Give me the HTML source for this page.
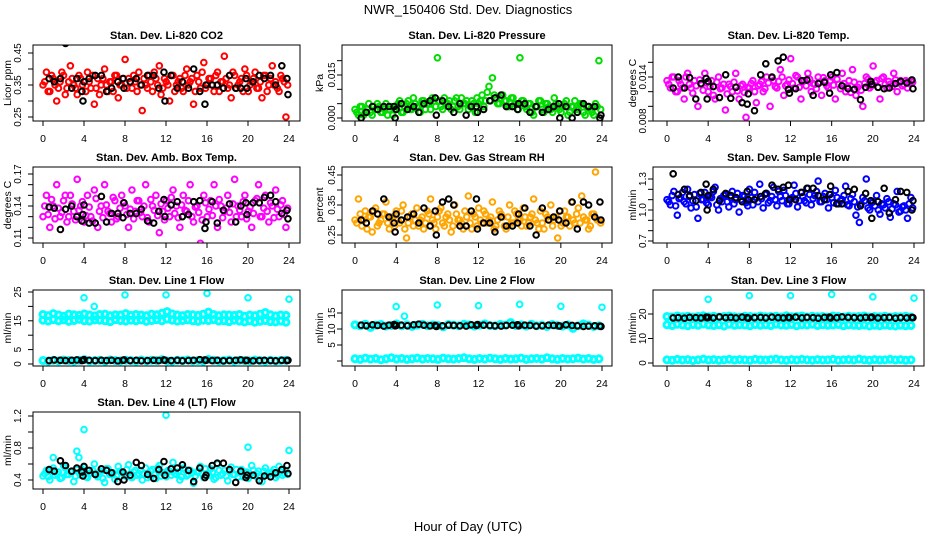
<!DOCTYPE html>
<html><head><meta charset="utf-8"><style>
html,body{margin:0;padding:0;background:#fff;}
svg{display:block;font-family:"Liberation Sans",Arial,sans-serif;}
</style></head><body>
<svg id="chart" width="936" height="540" viewBox="0 0 936 540">
<rect x="0" y="0" width="936" height="540" fill="#fff"/>
<text x="468" y="14" font-size="13" text-anchor="middle">NWR_150406  Std. Dev. Diagnostics</text>
<text x="468" y="531" font-size="13" text-anchor="middle">Hour of Day (UTC)</text>
</svg>
<script>
const hoursB = [0.6,1.1,1.7,2.2,2.8,3.3,3.8,3.9,4.0,4.5,5.1,5.7,6.2,6.7,7.3,7.8,7.9,8.5,9.1,9.6,10.2,10.8,11.3,11.8,11.9,12.5,13.1,13.6,14.2,14.7,15.3,15.8,15.9,16.5,17.0,17.6,18.2,18.8,19.3,19.8,19.9,20.5,21.1,21.6,22.2,22.7,23.3,23.8,23.9];
const xTicks = [0,4,8,12,16,20,24];

const co2 = [0.35,0.39,0.33,0.37,0.30,0.36,0.38,0.34,0.41,0.35,0.32,0.37,0.36,0.39,0.34,0.29,0.37,0.35,0.40,0.33,0.36,0.38,0.31,0.35,0.43,0.37,0.34,0.36,0.39,0.27,0.35,0.38,0.33,0.37,0.41,0.34,0.36,0.30,0.38,0.35,0.37,0.33,0.40,0.36,0.29,0.38,0.34,0.42,0.35,0.37,0.33,0.39,0.36,0.44,0.34,0.31,0.38,0.35,0.37,0.40,0.33,0.36,0.39,0.34,0.31,0.38,0.35,0.41,0.36,0.33,0.37,0.25];
const co2b = [0.36,0.33,0.38,0.35,0.34,0.39,0.32,0.36,0.37,0.34,0.38,0.35,0.33,0.36,0.38,0.34,0.32,0.37,0.35,0.36,0.33,0.38,0.35,0.37,0.34,0.36,0.38,0.33,0.35,0.37,0.34,0.36,0.39,0.35,0.32,0.37,0.35,0.38,0.33,0.36,0.34,0.38,0.35,0.37,0.33,0.36,0.39,0.34,0.37,0.35,0.38,0.33,0.36,0.37,0.35,0.39,0.34,0.36,0.33,0.38,0.35,0.37,0.34,0.36,0.38,0.33,0.37,0.35,0.34,0.38,0.36,0.35];
const co2B = [0.37,0.36,0.37,0.48,0.34,0.37,0.33,0.30,0.36,0.37,0.38,0.38,0.33,0.34,0.36,0.37,0.34,0.36,0.37,0.35,0.38,0.38,0.34,0.39,0.30,0.38,0.34,0.36,0.34,0.40,0.33,0.29,0.35,0.35,0.35,0.34,0.38,0.34,0.34,0.37,0.34,0.36,0.38,0.37,0.38,0.35,0.41,0.37,0.32];
const press = [0.003,0.001,0.004,0.002,0.005,0.001,0.003,0.004,0.002,0.005,0.003,0.001,0.004,0.006,0.002,0.005,0.003,0.007,0.004,0.002,0.006,0.005,0.003,0.006,0.021,0.004,0.007,0.005,0.003,0.006,0.004,0.007,0.005,0.003,0.006,0.002,0.005,0.008,0.006,0.011,0.014,0.007,0.005,0.008,0.006,0.004,0.007,0.005,0.021,0.006,0.003,0.005,0.001,0.004,0.006,0.002,0.005,0.003,0.007,0.004,0.002,0.005,0.001,0.004,0.006,0.003,0.005,0.001,0.004,0.002,0.005,0.020];
const pressb = [0.002,0.004,0.001,0.003,0.002,0.004,0.005,0.002,0.003,0.001,0.004,0.003,0.005,0.002,0.004,0.006,0.003,0.005,0.004,0.006,0.003,0.005,0.007,0.004,0.006,0.003,0.005,0.006,0.004,0.007,0.003,0.005,0.006,0.004,0.005,0.007,0.006,0.004,0.009,0.006,0.008,0.005,0.007,0.006,0.004,0.007,0.005,0.003,0.006,0.004,0.005,0.002,0.004,0.006,0.003,0.005,0.004,0.002,0.005,0.003,0.004,0.006,0.002,0.004,0.003,0.005,0.002,0.004,0.003,0.001,0.004,0.003];
const pressB = [0,0.002,0.004,0.003,0.004,0.004,0.004,0,0.003,0.005,0.003,0.004,0.002,0.005,0.006,0.007,0.001,0.006,0.004,0.002,0.005,0.001,0.004,0.004,0.002,0.003,0.006,0.007,0.008,0.004,0.004,0.003,0.005,0.005,0.002,0.004,0.002,0.003,0.004,0.005,0,0.004,0,0.002,0.005,0.004,0.004,0,0.001];
const temp = [0.0135,0.0125,0.014,0.012,0.0130,0.011,0.0145,0.0125,0.0135,0.010,0.013,0.0145,0.012,0.0135,0.011,0.0140,0.0125,0.0095,0.013,0.0120,0.0145,0.0110,0.0130,0.0085,0.0125,0.0135,0.0105,0.013,0.0120,0.0140,0.0100,0.0135,0.0125,0.0150,0.0115,0.0130,0.0165,0.0125,0.0140,0.0110,0.0135,0.0145,0.0120,0.0130,0.0140,0.0115,0.0135,0.0125,0.0140,0.0110,0.0130,0.0145,0.0120,0.0135,0.0150,0.0115,0.0130,0.0100,0.0140,0.0125,0.0155,0.0135,0.0110,0.0140,0.0125,0.0130,0.0145,0.0120,0.0135,0.0130,0.0125,0.0135];
const tempb = [0.0130,0.0140,0.0120,0.0135,0.0125,0.0140,0.0130,0.0118,0.0128,0.0136,0.0122,0.0132,0.0127,0.0115,0.0133,0.0124,0.0130,0.0117,0.0127,0.0133,0.0121,0.0128,0.0119,0.0126,0.0131,0.0120,0.0128,0.0134,0.0124,0.0132,0.0139,0.0127,0.0134,0.0140,0.0128,0.0136,0.0131,0.0142,0.0126,0.0134,0.0128,0.0137,0.0131,0.0124,0.0133,0.0139,0.0128,0.0135,0.0129,0.0137,0.0124,0.0131,0.0127,0.0119,0.0133,0.0126,0.0122,0.0131,0.0137,0.0128,0.0133,0.0126,0.0138,0.0130,0.0134,0.0127,0.0136,0.0132,0.0128,0.0135,0.0131,0.0133];
const tempB = [0.0125,0.0140,0.0125,0.0139,0.0110,0.0131,0.0138,0.0110,0.0134,0.0127,0.0112,0.0143,0.0111,0.0126,0.0105,0.0103,0.0117,0.0094,0.0143,0.0158,0.0140,0.0162,0.0167,0.0123,0.0118,0.0124,0.0135,0.0136,0.0115,0.0131,0.0133,0.0118,0.0143,0.0146,0.0128,0.0124,0.0123,0.0109,0.0126,0.0134,0.0130,0.0126,0.0124,0.0125,0.0131,0.0134,0.0132,0.0136,0.0124];
const amb = [0.13,0.15,0.12,0.14,0.16,0.13,0.145,0.125,0.15,0.135,0.165,0.14,0.125,0.15,0.13,0.155,0.12,0.14,0.16,0.135,0.125,0.145,0.13,0.15,0.14,0.12,0.155,0.135,0.145,0.13,0.16,0.125,0.14,0.15,0.115,0.135,0.145,0.13,0.155,0.14,0.12,0.15,0.135,0.16,0.125,0.14,0.105,0.15,0.13,0.145,0.16,0.12,0.14,0.135,0.15,0.125,0.165,0.14,0.13,0.15,0.135,0.12,0.145,0.16,0.13,0.15,0.125,0.14,0.155,0.13,0.145,0.12];
const ambb = [0.140,0.132,0.146,0.128,0.138,0.134,0.150,0.130,0.142,0.127,0.136,0.144,0.131,0.139,0.126,0.147,0.135,0.129,0.141,0.133,0.148,0.128,0.138,0.143,0.132,0.137,0.128,0.145,0.134,0.140,0.129,0.146,0.136,0.131,0.142,0.127,0.138,0.148,0.133,0.129,0.141,0.136,0.145,0.130,0.139,0.134,0.127,0.143,0.137,0.131,0.140,0.146,0.129,0.138,0.134,0.142,0.130,0.136,0.144,0.128,0.139,0.133,0.147,0.130,0.138,0.135,0.143,0.129,0.137,0.141,0.132,0.138];
const ambB = [0.139,0.138,0.118,0.137,0.140,0.130,0.126,0.132,0.141,0.124,0.124,0.149,0.125,0.133,0.133,0.129,0.143,0.133,0.133,0.137,0.126,0.124,0.135,0.146,0.130,0.141,0.144,0.130,0.132,0.144,0.145,0.119,0.125,0.144,0.124,0.136,0.142,0.125,0.140,0.143,0.132,0.143,0.143,0.148,0.150,0.144,0.133,0.136,0.128];
const rh = [0.30,0.37,0.28,0.33,0.31,0.26,0.34,0.29,0.32,0.36,0.27,0.31,0.33,0.29,0.35,0.24,0.31,0.28,0.34,0.30,0.27,0.33,0.37,0.29,0.31,0.34,0.28,0.32,0.26,0.35,0.30,0.29,0.33,0.38,0.27,0.31,0.34,0.29,0.32,0.30,0.36,0.28,0.33,0.31,0.27,0.35,0.29,0.32,0.30,0.34,0.28,0.31,0.37,0.29,0.33,0.27,0.31,0.35,0.30,0.24,0.28,0.33,0.31,0.36,0.29,0.34,0.38,0.30,0.27,0.32,0.46,0.30];
const rhb = [0.29,0.32,0.30,0.27,0.31,0.33,0.28,0.30,0.32,0.29,0.31,0.28,0.30,0.33,0.27,0.29,0.32,0.30,0.28,0.31,0.29,0.32,0.30,0.27,0.33,0.29,0.31,0.30,0.28,0.32,0.30,0.27,0.31,0.29,0.32,0.28,0.30,0.33,0.29,0.31,0.27,0.30,0.32,0.28,0.31,0.29,0.33,0.30,0.28,0.31,0.29,0.32,0.30,0.27,0.29,0.32,0.30,0.28,0.31,0.33,0.29,0.31,0.28,0.30,0.32,0.29,0.31,0.30,0.28,0.32,0.30,0.29];
const rhB = [0.30,0.29,0.33,0.32,0.37,0.31,0.29,0.26,0.32,0.30,0.31,0.32,0.29,0.34,0.28,0.33,0.25,0.36,0.37,0.35,0.28,0.28,0.33,0.37,0.27,0.29,0.29,0.26,0.31,0.28,0.28,0.29,0.32,0.34,0.28,0.25,0.34,0.30,0.31,0.30,0.33,0.29,0.36,0.27,0.36,0.35,0.31,0.36,0.30];
const sflow = [1.10,1.05,1.18,0.95,1.12,1.08,1.20,1.02,1.15,0.92,1.10,1.17,1.05,1.12,1.22,1.00,1.08,1.15,1.03,1.18,1.10,0.98,1.14,1.07,1.20,1.05,1.12,1.25,1.02,1.16,1.09,1.22,1.04,1.13,1.19,1.06,1.11,1.24,1.03,1.17,1.09,1.21,1.05,1.14,1.28,1.08,1.16,1.02,1.12,1.19,1.06,1.10,1.23,1.04,1.15,0.95,0.88,1.12,1.30,1.00,1.08,1.14,0.96,1.05,1.11,0.93,1.06,1.18,0.99,1.04,0.92,1.12];
const sflowb = [1.08,1.14,1.04,1.11,1.17,1.06,1.13,1.09,1.03,1.16,1.10,1.07,1.13,1.18,1.05,1.11,1.14,1.08,1.12,1.06,1.16,1.10,1.13,1.04,1.12,1.17,1.08,1.11,1.15,1.07,1.13,1.10,1.18,1.09,1.14,1.06,1.12,1.16,1.09,1.13,1.07,1.15,1.11,1.18,1.08,1.13,1.10,1.15,1.07,1.12,1.09,1.14,1.05,1.11,1.08,1.03,1.06,1.09,1.02,1.07,1.04,1.00,1.06,1.02,1.08,1.01,1.05,0.98,1.03,1.00,1.06,1.02];
const sflowB = [1.35,1.15,1.20,1.14,1.09,1.17,1.25,1.00,1.14,1.20,1.09,1.16,1.14,1.12,1.08,1.18,1.10,1.10,1.13,1.16,1.24,1.20,1.22,1.24,1.10,1.10,1.17,1.21,1.21,1.14,1.10,1.15,1.23,1.06,1.06,1.18,1.20,1.04,1.16,1.09,0.92,1.08,1.21,0.97,1.10,1.18,1.17,1.00,1.09];
const l1a = [17.2,16.8,17.5,17.0,16.6,17.3,17.1,16.9,17.4,17.0,16.7,17.2,17.3,16.8,17.1,17.0,17.5,16.9,17.2,17.0,16.8,17.3,17.1,17.6,18.2,17.4,17.0,16.8,17.2,17.1,16.9,17.3,18.0,17.2,16.8,17.1,17.0,16.9,17.2,16.6,17.0,16.8,17.3,17.9,17.1,16.7,17.0,16.9];
const l1b = [15.2,14.9,15.4,15.0,15.3,14.8,15.1,15.5,15.0,14.9,15.3,15.2,15.0,14.7,15.4,15.1,14.9,15.2,15.0,15.3,14.8,15.1,15.4,15.0,15.6,15.2,14.9,15.1,15.3,15.0,14.8,15.2,15.1,15.4,14.9,15.0,14.7,15.2,14.9,14.6,15.0,14.5,14.8,15.1,14.7,14.6,14.9,14.5];
const l1c = [1.2,1.0,1.3,1.1,1.4,1.2,1.0,1.3,1.5,1.1,1.2,1.3,1.0,1.4,1.2,1.1,1.3,1.2,1.0,1.4,1.1,1.3,1.2,1.5,1.1,1.0,1.3,1.2,1.4,1.1,1.2,1.0,1.6,1.3,1.1,1.2,1.4,1.0,1.3,1.2,1.1,1.4,1.2,1.0,1.3,1.1,1.2,1.3];
const l1OutH = [4,5,8,12,16,20,24];
const l1Out = [23,20,24,24,24.5,23,22.5];
const l1B = [1.2,1.4,1.3,1.2,1.3,1.4,1.2,1.3,1.5,1.3,1.2,1.3,1.2,1.3,1.1,1.3,1.4,1.2,1.3,1.1,1.2,1.3,1.2,1.4,1.3,1.2,1.3,1.1,1.2,1.3,1.5,1.4,1.3,1.2,1.3,1.1,1.2,1.3,1.4,1.2,1.3,1.1,1.2,1.3,1.2,1.1,1.3,1.2,1.3];
const l2a = [11.3,11.0,11.5,10.5,11.2,11.4,10.9,11.1,11.6,11.0,11.3,10.8,11.2,11.5,11.0,11.3,11.1,10.7,11.4,11.2,11.0,11.5,11.3,10.9,11.2,11.6,11.1,11.0,11.4,11.2,12.0,11.1,11.3,10.9,11.5,11.0,11.2,10.8,11.4,11.1,10.9,11.3,10.2,11.0,11.6,11.2,10.8,11.0];
const l2c = [0.7,0.5,0.9,0.6,0.8,0.4,0.7,1.0,0.6,0.8,0.5,0.7,0.9,0.6,0.8,0.7,0.5,0.9,0.7,0.6,0.8,1.0,0.7,0.5,0.8,0.6,0.9,0.7,0.5,0.8,0.6,0.7,0.9,0.5,0.7,0.8,0.6,1.0,0.7,0.5,0.8,0.6,0.7,0.9,0.6,0.8,0.5,0.7];
const l2OutH = [4,4.8,8,12,16,20,24];
const l2Out = [17,14,17.5,17.3,17.7,17.1,16.8];
const l2B = [11.2,11.0,11.3,11.1,10.9,11.2,11.4,11.0,11.1,11.2,11.0,11.3,11.5,11.2,11.0,11.1,10.8,11.0,11.2,11.1,11.0,10.9,11.3,11.1,11.4,11.2,11.1,11.0,10.9,11.1,11.2,11.3,11.0,11.2,11.1,10.9,11.0,11.2,11.1,11.0,10.9,11.3,11.1,11.0,10.8,10.9,11.0,10.9,10.8];
const l3a = [19.0,18.8,19.2,18.9,19.1,18.7,19.0,19.3,18.9,19.1,18.8,19.0,19.2,18.9,18.7,19.1,19.0,18.8,19.2,18.9,19.0,19.1,18.8,19.3,18.9,19.0,19.2,18.8,19.1,18.9,19.0,18.7,19.2,19.0,18.8,19.1,18.9,19.0,19.2,18.8,19.0,18.9,19.1,18.7,19.0,18.9,19.1,18.8];
const l3b = [15.6,15.3,15.8,15.5,15.2,15.7,15.4,15.9,15.5,15.3,15.6,15.1,15.8,15.4,15.6,15.5,15.2,15.7,15.4,15.6,15.3,15.8,15.5,15.4,15.7,15.2,15.6,15.5,15.8,15.3,15.6,15.4,15.5,15.7,15.2,15.6,15.4,15.3,15.5,15.1,15.4,15.2,15.5,15.3,15.1,15.4,15.2,15.3];
const l3c = [1.3,1.1,1.5,1.2,1.4,1.0,1.3,1.6,1.2,1.4,1.1,1.3,1.5,1.2,1.4,1.3,1.1,1.5,1.3,1.2,1.4,1.6,1.3,1.1,1.4,1.2,1.5,1.3,1.1,1.4,1.2,1.3,1.5,1.1,1.3,1.4,1.2,1.6,1.3,1.1,1.4,1.2,1.3,1.5,1.2,1.4,1.1,1.3];
const l3OutH = [4,8,12,16,20,24];
const l3Out = [26,27.5,27.5,28,27,26.5];
const l3B = [18.4,18.5,18.3,18.6,18.5,18.4,18.7,18.5,18.6,18.4,18.8,18.5,18.6,18.4,18.7,18.5,18.3,18.5,18.6,18.4,18.7,18.5,18.4,18.6,18.5,18.7,18.4,18.6,18.5,18.3,18.6,18.7,18.4,18.5,18.8,18.6,18.5,18.4,18.6,18.5,18.7,18.4,18.5,18.6,18.3,18.5,18.4,18.6,18.5];
const l4 = [0.45,0.52,0.40,0.55,0.48,0.42,0.58,0.47,0.50,0.38,0.53,0.46,0.56,0.43,0.49,0.60,0.44,0.51,0.37,0.54,0.47,0.41,0.57,0.50,0.45,0.59,0.43,0.52,0.48,0.40,0.55,0.46,0.53,0.42,0.58,0.49,0.44,0.51,0.62,0.47,0.40,0.55,0.45,0.52,0.36,0.50,0.57,0.43,0.48,0.54,0.41,0.60,0.46,0.52,0.39,0.56,0.47,0.44,0.53,0.49,0.42,0.58,0.45,0.51,0.38,0.55,0.47,0.50,0.43,0.57,0.46,0.52];
const l4b = [0.48,0.44,0.52,0.46,0.50,0.43,0.55,0.47,0.51,0.45,0.49,0.53,0.44,0.48,0.52,0.46,0.50,0.42,0.54,0.47,0.49,0.45,0.51,0.48,0.53,0.44,0.50,0.46,0.52,0.48,0.43,0.51,0.47,0.55,0.45,0.49,0.52,0.46,0.48,0.50,0.44,0.53,0.47,0.49,0.45,0.51,0.48,0.54,0.46,0.50,0.43,0.52,0.48,0.45,0.51,0.47,0.53,0.49,0.44,0.50,0.46,0.52,0.48,0.45,0.51,0.47,0.49,0.53,0.46,0.50,0.48,0.47];
const l4OutH = [1,3.3,3.5,4,12,20,24];
const l4Out = [0.68,0.76,0.68,1.03,1.21,0.81,0.77];
const l4B = [0.53,0.51,0.64,0.58,0.51,0.55,0.50,0.45,0.57,0.52,0.47,0.54,0.52,0.49,0.38,0.50,0.40,0.46,0.62,0.58,0.47,0.42,0.53,0.63,0.46,0.54,0.55,0.59,0.52,0.38,0.55,0.43,0.46,0.58,0.61,0.61,0.53,0.37,0.51,0.43,0.46,0.46,0.39,0.45,0.44,0.49,0.53,0.58,0.48];

const svg = document.getElementById('chart');
const NS = 'http://www.w3.org/2000/svg';
function mk(tag, attrs, parent){const e=document.createElementNS(NS,tag);for(const k in attrs)e.setAttribute(k,attrs[k]);(parent||svg).appendChild(e);return e;}

const cols = [{bl:33,br:300,x0:43,x24:289,tl:17,yl:7},{bl:342,br:612,x0:355,x24:602,tl:331,yl:319},{bl:653,br:924,x0:667,x24:914,tl:642,yl:632}];
const rows = [{bt:45,bb:121},{bt:167,bb:243},{bt:290,bb:366},{bt:412,bb:489}];

function panel(c, r, title, ylab, v1, p1, v2, p2, ticks, labels, series, name){
  const C = cols[c], R = rows[r];
  const g = mk('g', {});
  
  
  const xs = h => C.x0 + (C.x24 - C.x0) * h / 24;
  const ys = v => p1 + (p2 - p1) * (v - v1) / (v2 - v1);
  const t = mk('text', {x:(C.bl+C.br)/2, y:R.bt-6, 'font-size':11, 'font-weight':'bold', 'text-anchor':'middle'}, g);
  t.textContent = title;
  
  
  const yl = mk('text', {x:0, y:0, 'font-size':10.5, 'text-anchor':'middle', transform:`translate(${C.yl+4},${(R.bt+R.bb)/2}) rotate(-90)`}, g);
  yl.textContent = ylab;
  
  
  mk('line', {x1:xs(0), x2:xs(24), y1:R.bb, y2:R.bb, stroke:'#000'}, g);
  xTicks.forEach(h => {
    mk('line', {x1:xs(h), x2:xs(h), y1:R.bb, y2:R.bb+5, stroke:'#000'}, g);
    const tx = mk('text', {x:xs(h), y:R.bb+21, 'font-size':10.5, 'text-anchor':'middle'}, g);
    tx.textContent = String(h);
    
    
  });
  const ya = ticks.map(ys);
  mk('line', {x1:C.bl, x2:C.bl, y1:Math.min(...ya), y2:Math.max(...ya), stroke:'#000'}, g);
  ticks.forEach((v, i) => {
    mk('line', {x1:C.bl-5, x2:C.bl, y1:ys(v), y2:ys(v), stroke:'#000'}, g);
    if (labels[i]) {
      const ty = mk('text', {x:0, y:0, 'font-size':10, 'text-anchor':'middle', transform:`translate(${C.tl+4},${ys(v)}) rotate(-90)`}, g);
      ty.textContent = labels[i];
      
      
    }
  });
  const clipId = 'clip' + c + r;
  const cp = mk('clipPath', {id:clipId}, g);
  mk('rect', {x:C.bl, y:R.bt, width:C.br-C.bl, height:R.bb-R.bt}, cp);
  const pg = mk('g', {'clip-path':`url(#${clipId})`}, g);
  series.forEach(s => {
    const sg = mk('g', {}, pg);
    
    
    s.vals.forEach((v, i) => {
      const h = s.hours ? s.hours[i] : i * 23.7 / (s.vals.length - 1) + (s.off || 0);
      const pt = mk('circle', {cx:xs(h), cy:ys(v), r:s.r||2.8, fill:'none', stroke:s.color, 'stroke-width':s.sw||2}, sg);
      
      
    });
  });
  mk('rect', {x:C.bl, y:R.bt, width:C.br-C.bl, height:R.bb-R.bt, fill:'none', stroke:'#000'}, g);
}

panel(0,0,'Stan. Dev. Li-820 CO2','Licor ppm',0.25,117,0.45,53,[0.25,0.30,0.35,0.40,0.45],['0.25','','0.35','','0.45'],
  [{vals:co2,color:'#ff0000',name:'co2-series'},{vals:co2b,off:0.17,color:'#ff0000',name:'co2-series-b'},{vals:co2B,hours:hoursB,color:'#000',name:'co2-black-series'}],'panel-co2');
panel(1,0,'Stan. Dev. Li-820 Pressure','kPa',0,118,0.015,75,[0,0.005,0.01,0.015,0.02],['0.000','','','0.015',''],
  [{vals:press,color:'#00dd00',name:'pressure-series'},{vals:pressb,off:0.17,color:'#00dd00',name:'pressure-series-b'},{vals:pressB,hours:hoursB,color:'#000',name:'pressure-black-series'}],'panel-pressure');
panel(2,0,'Stan. Dev. Li-820 Temp.','degrees C',0.008,121,0.014,77,[0.008,0.010,0.012,0.014,0.016],['0.008','','','0.014',''],
  [{vals:temp,color:'#ff00ff',name:'temp-series'},{vals:tempb,off:0.17,color:'#ff00ff',name:'temp-series-b'},{vals:tempB,hours:hoursB,color:'#000',name:'temp-black-series'}],'panel-temp');
panel(0,1,'Stan. Dev. Amb. Box Temp.','degrees C',0.11,238,0.17,174,[0.11,0.12,0.13,0.14,0.15,0.16,0.17],['0.11','','','0.14','','','0.17'],
  [{vals:amb,color:'#ff00ff',name:'amb-temp-series'},{vals:ambb,off:0.17,color:'#ff00ff',name:'amb-temp-series-b'},{vals:ambB,hours:hoursB,color:'#000',name:'amb-temp-black-series'}],'panel-amb-temp');
panel(1,1,'Stan. Dev. Gas Stream RH','percent',0.25,235,0.45,175,[0.25,0.30,0.35,0.40,0.45],['0.25','','0.35','','0.45'],
  [{vals:rh,color:'#ffa500',name:'rh-series'},{vals:rhb,off:0.17,color:'#ffa500',name:'rh-series-b'},{vals:rhB,hours:hoursB,color:'#000',name:'rh-black-series'}],'panel-rh');
panel(2,1,'Stan. Dev. Sample Flow','ml/min',0.7,241,1.3,179,[0.7,0.8,0.9,1.0,1.1,1.2,1.3],['0.7','','','1.0','','','1.3'],
  [{vals:sflow,color:'#0000ff',name:'sample-flow-series'},{vals:sflowb,off:0.17,color:'#0000ff',name:'sample-flow-series-b'},{vals:sflowB,hours:hoursB,color:'#000',name:'sample-flow-black-series'}],'panel-sample-flow');
panel(0,2,'Stan. Dev. Line 1 Flow','ml/min',0,364,25,292,[0,5,10,15,20,25],['0','5','','15','','25'],
  [{vals:l1a,color:'#00ffff',r:3,sw:3,name:'line1-upper-band'},{vals:l1b,color:'#00ffff',r:3,sw:3,name:'line1-lower-band'},{vals:l1c,color:'#00ffff',r:3,sw:3,name:'line1-low-band'},
   {vals:l1Out,hours:l1OutH,color:'#00ffff',name:'line1-outliers'},{vals:l1B,hours:hoursB,color:'#000',name:'line1-black-series'}],'panel-line1');
panel(1,2,'Stan. Dev. Line 2 Flow','ml/min',0,361,15,313,[0,5,10,15],['','5','10','15'],
  [{vals:l2a,color:'#00ffff',r:3,sw:3,name:'line2-band'},{vals:l2c,color:'#00ffff',r:3,sw:3,name:'line2-low-band'},
   {vals:l2Out,hours:l2OutH,color:'#00ffff',name:'line2-outliers'},{vals:l2B,hours:hoursB,color:'#000',name:'line2-black-series'}],'panel-line2');
panel(2,2,'Stan. Dev. Line 3 Flow','ml/min',0,363,20,314,[0,10,20],['0','10','20'],
  [{vals:l3a,color:'#00ffff',r:3,sw:3,name:'line3-upper-band'},{vals:l3b,color:'#00ffff',r:3,sw:3,name:'line3-mid-band'},{vals:l3c,color:'#00ffff',r:3,sw:3,name:'line3-low-band'},
   {vals:l3Out,hours:l3OutH,color:'#00ffff',name:'line3-outliers'},{vals:l3B,hours:hoursB,color:'#000',name:'line3-black-series'}],'panel-line3');
panel(0,3,'Stan. Dev. Line 4 (LT) Flow','ml/min',0.4,480,1.2,416,[0.4,0.6,0.8,1.0,1.2],['0.4','','0.8','','1.2'],
  [{vals:l4,color:'#00ffff',name:'line4-series'},{vals:l4b,off:0.17,color:'#00ffff',name:'line4-series-b'},{vals:l4Out,hours:l4OutH,color:'#00ffff',name:'line4-outliers'},{vals:l4B,hours:hoursB,color:'#000',name:'line4-black-series'}],'panel-line4');
</script>
</body></html>
